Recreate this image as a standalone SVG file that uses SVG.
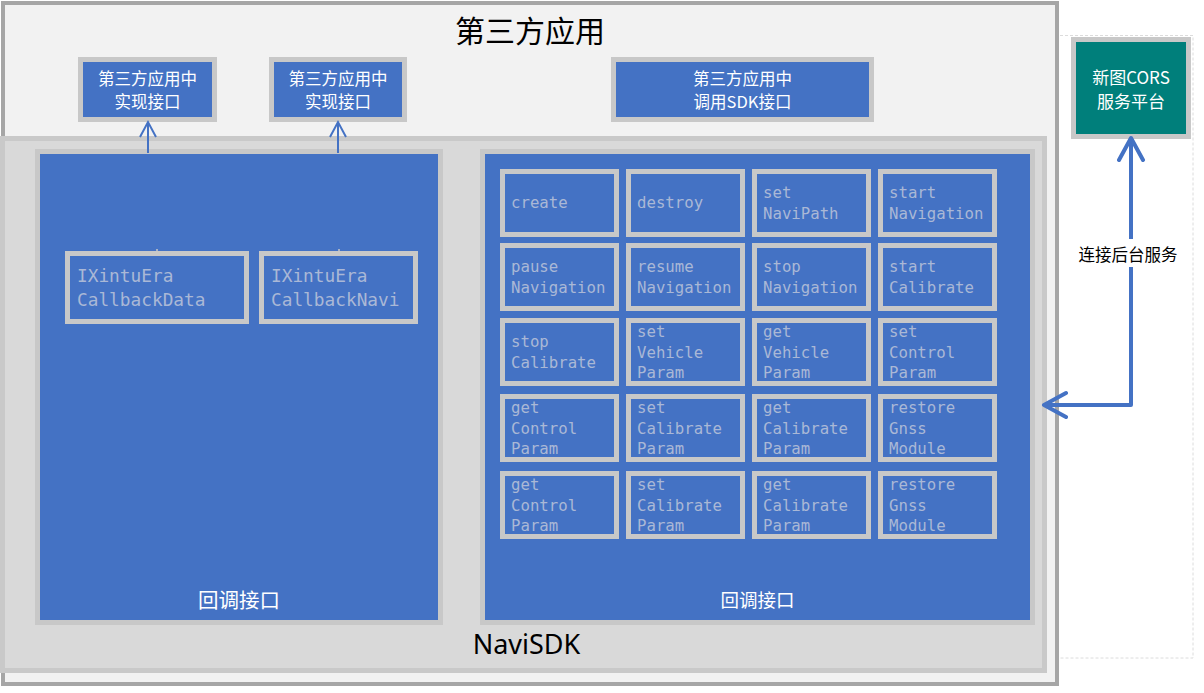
<svg xmlns="http://www.w3.org/2000/svg" width="1204" height="693" viewBox="0 0 1204 693">
<style>
.cjk{font-family:"Noto Sans CJK SC","Noto Sans",sans-serif}
.wt{fill:#ffffff}
.box{fill:#4472c4;stroke:#c8c8c8;stroke-width:5}
.cell rect{fill:#4472c4;stroke:#c8c8c8;stroke-width:5}
.mono{font-family:"DejaVu Sans Mono","Liberation Mono",monospace;fill:#aab8d6}
.cell text{font-size:15.7px}
.conn{fill:none;stroke:#4472c4}
</style>
<defs>
<marker id="ah" markerUnits="userSpaceOnUse" markerWidth="20" markerHeight="20" refX="16" refY="9" orient="auto">
<path d="M1,1 L16,9 L1,17" fill="none" stroke="#4472c4" stroke-width="2"/>
</marker>
<marker id="ahb" markerUnits="userSpaceOnUse" markerWidth="30" markerHeight="30" refX="24" refY="14" orient="auto-start-reverse">
<path d="M2,2 L24,14 L2,26" fill="none" stroke="#4472c4" stroke-width="4" stroke-linecap="round" stroke-linejoin="round"/>
</marker>
</defs>
<rect width="1204" height="693" fill="#ffffff"/>
<rect x="1050" y="35.5" width="143" height="622.5" fill="#ffffff" stroke="#dcdcdc" stroke-width="1" stroke-dasharray="3,2"/>
<g id="app">
<rect x="3" y="3" width="1054" height="681" fill="#f2f2f2" stroke="#a6a6a6" stroke-width="4"/>
<text class="cjk" x="530" y="42" font-size="30" text-anchor="middle" fill="#000000">第三方应用</text>
</g>
<g id="impl1">
<rect class="box" x="80.5" y="59.5" width="134" height="60"/>
<text class="cjk wt" font-size="16.5" text-anchor="middle"><tspan x="147.5" y="85">第三方应用中</tspan><tspan x="147.5" y="108">实现接口</tspan></text>
</g>
<g id="impl2">
<rect class="box" x="271.5" y="59.5" width="133" height="60"/>
<text class="cjk wt" font-size="16.5" text-anchor="middle"><tspan x="338" y="85">第三方应用中</tspan><tspan x="338" y="108">实现接口</tspan></text>
</g>
<g id="call">
<rect class="box" x="613.5" y="59.5" width="258" height="60"/>
<text class="cjk wt" font-size="16.5" text-anchor="middle"><tspan x="742.5" y="85">第三方应用中</tspan><tspan x="742.5" y="108">调用SDK接口</tspan></text>
</g>
<g id="navisdk">
<rect x="2.5" y="138.5" width="1042" height="532" fill="#d9d9d9" stroke="#c9c9c9" stroke-width="5"/>
<text x="526.5" y="654" font-family="Noto Sans,sans-serif" font-size="27" text-anchor="middle" fill="#000000">NaviSDK</text>
</g>
<g id="callback-panel">
<rect class="box" x="37.5" y="151.5" width="403" height="471"/>
<text class="cjk wt" x="239" y="608" font-size="20.5" text-anchor="middle">回调接口</text>
</g>
<g id="cbData">
<rect class="box" x="67.5" y="253.5" width="179" height="68"/>
<text class="mono" font-size="17.8"><tspan x="77" y="282">IXintuEra</tspan><tspan x="77" y="306">CallbackData</tspan></text>
</g>
<g id="cbNavi">
<rect class="box" x="261.5" y="253.5" width="154" height="68"/>
<text class="mono" font-size="17.8"><tspan x="271" y="282">IXintuEra</tspan><tspan x="271" y="306">CallbackNavi</tspan></text>
</g>
<g id="api-panel">
<rect class="box" x="482.5" y="151.5" width="550" height="471"/>
<text class="cjk wt" x="757.5" y="607" font-size="18.5" text-anchor="middle">回调接口</text>
</g>
<g id="c11" class="cell"><rect x="502.5" y="171.5" width="114" height="63"/><text class="mono" x="511" y="208">create</text></g>
<g id="c12" class="cell"><rect x="628.5" y="171.5" width="114" height="63"/><text class="mono" x="637" y="208">destroy</text></g>
<g id="c13" class="cell"><rect x="754.5" y="171.5" width="114" height="63"/><text class="mono"><tspan x="763" y="198">set</tspan><tspan x="763" y="219">NaviPath</tspan></text></g>
<g id="c14" class="cell"><rect x="880.5" y="171.5" width="114" height="63"/><text class="mono"><tspan x="889" y="198">start</tspan><tspan x="889" y="219">Navigation</tspan></text></g>
<g id="c21" class="cell"><rect x="502.5" y="245.5" width="114" height="63"/><text class="mono"><tspan x="511" y="272">pause</tspan><tspan x="511" y="293">Navigation</tspan></text></g>
<g id="c22" class="cell"><rect x="628.5" y="245.5" width="114" height="63"/><text class="mono"><tspan x="637" y="272">resume</tspan><tspan x="637" y="293">Navigation</tspan></text></g>
<g id="c23" class="cell"><rect x="754.5" y="245.5" width="114" height="63"/><text class="mono"><tspan x="763" y="272">stop</tspan><tspan x="763" y="293">Navigation</tspan></text></g>
<g id="c24" class="cell"><rect x="880.5" y="245.5" width="114" height="63"/><text class="mono"><tspan x="889" y="272">start</tspan><tspan x="889" y="293">Calibrate</tspan></text></g>
<g id="c31" class="cell"><rect x="502.5" y="320.5" width="114" height="63"/><text class="mono"><tspan x="511" y="347">stop</tspan><tspan x="511" y="368">Calibrate</tspan></text></g>
<g id="c32" class="cell"><rect x="628.5" y="320.5" width="114" height="63"/><text class="mono"><tspan x="637" y="337">set</tspan><tspan x="637" y="357.5">Vehicle</tspan><tspan x="637" y="378">Param</tspan></text></g>
<g id="c33" class="cell"><rect x="754.5" y="320.5" width="114" height="63"/><text class="mono"><tspan x="763" y="337">get</tspan><tspan x="763" y="357.5">Vehicle</tspan><tspan x="763" y="378">Param</tspan></text></g>
<g id="c34" class="cell"><rect x="880.5" y="320.5" width="114" height="63"/><text class="mono"><tspan x="889" y="337">set</tspan><tspan x="889" y="357.5">Control</tspan><tspan x="889" y="378">Param</tspan></text></g>
<g id="c41" class="cell"><rect x="502.5" y="396.5" width="114" height="63"/><text class="mono"><tspan x="511" y="413">get</tspan><tspan x="511" y="433.5">Control</tspan><tspan x="511" y="454">Param</tspan></text></g>
<g id="c42" class="cell"><rect x="628.5" y="396.5" width="114" height="63"/><text class="mono"><tspan x="637" y="413">set</tspan><tspan x="637" y="433.5">Calibrate</tspan><tspan x="637" y="454">Param</tspan></text></g>
<g id="c43" class="cell"><rect x="754.5" y="396.5" width="114" height="63"/><text class="mono"><tspan x="763" y="413">get</tspan><tspan x="763" y="433.5">Calibrate</tspan><tspan x="763" y="454">Param</tspan></text></g>
<g id="c44" class="cell"><rect x="880.5" y="396.5" width="114" height="63"/><text class="mono"><tspan x="889" y="413">restore</tspan><tspan x="889" y="433.5">Gnss</tspan><tspan x="889" y="454">Module</tspan></text></g>
<g id="c51" class="cell"><rect x="502.5" y="473.5" width="114" height="63"/><text class="mono"><tspan x="511" y="490">get</tspan><tspan x="511" y="510.5">Control</tspan><tspan x="511" y="531">Param</tspan></text></g>
<g id="c52" class="cell"><rect x="628.5" y="473.5" width="114" height="63"/><text class="mono"><tspan x="637" y="490">set</tspan><tspan x="637" y="510.5">Calibrate</tspan><tspan x="637" y="531">Param</tspan></text></g>
<g id="c53" class="cell"><rect x="754.5" y="473.5" width="114" height="63"/><text class="mono"><tspan x="763" y="490">get</tspan><tspan x="763" y="510.5">Calibrate</tspan><tspan x="763" y="531">Param</tspan></text></g>
<g id="c54" class="cell"><rect x="880.5" y="473.5" width="114" height="63"/><text class="mono"><tspan x="889" y="490">restore</tspan><tspan x="889" y="510.5">Gnss</tspan><tspan x="889" y="531">Module</tspan></text></g>
<g id="cors">
<rect x="1073.5" y="39.5" width="115" height="97" fill="#007f7b" stroke="#c8c8c8" stroke-width="5"/>
<text class="cjk wt" font-size="17" text-anchor="middle"><tspan x="1131" y="84">新图CORS</tspan><tspan x="1131" y="108">服务平台</tspan></text>
</g>
<g id="connectors">
<path class="conn" d="M148,153 V122" stroke-width="2" marker-end="url(#ah)"/>
<path class="conn" d="M338,153 V122" stroke-width="2" marker-end="url(#ah)"/>
<line x1="157" y1="249" x2="157" y2="254" stroke="#c8c8c8" stroke-width="1.5"/>
<line x1="339" y1="249" x2="339" y2="254" stroke="#c8c8c8" stroke-width="1.5"/>
<path class="conn" d="M1131,138 V405 H1044" stroke-width="4" stroke-linejoin="round" marker-start="url(#ahb)" marker-end="url(#ahb)"/>
<rect x="1076" y="239" width="106" height="28" fill="#ffffff"/>
<text class="cjk" x="1128" y="261" font-size="16.5" text-anchor="middle" fill="#000000">连接后台服务</text>
</g>
</svg>
